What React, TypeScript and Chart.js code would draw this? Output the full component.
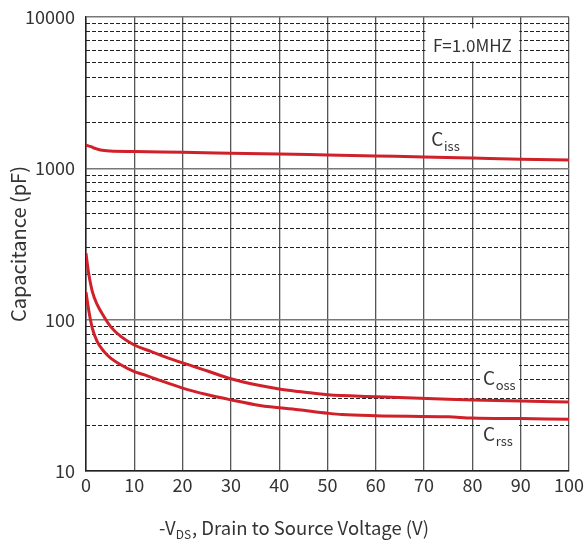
import React, { useEffect, useRef } from "react";
import { Chart, registerables } from "chart.js";

Chart.register(...registerables);

// ---- data ----
const cissV = [0, 1, 2, 3, 5, 10, 20, 30, 40, 50, 60, 70, 80, 90, 100];
const cissC = [1425, 1390, 1350, 1320, 1300, 1290, 1276, 1260, 1244, 1225, 1207, 1190, 1170, 1150, 1135];

const cossV = [0, 0.3, 0.6, 1.3, 2.3, 3.7, 5.1, 7.2, 9.9, 13.4, 16.1, 20, 25, 30, 36, 40, 44, 50, 60, 75, 80, 90, 100];
const cossC = [275, 230, 198, 154, 126, 105, 90, 77.5, 68.3, 61.7, 57.2, 51.8, 46, 40.7, 36.7, 34.8, 33.5, 31.9, 31.0, 29.8, 29.5, 29.0, 28.6];

const crssV = [0, 0.6, 1.3, 2.3, 3.7, 5.1, 7.2, 9.9, 12, 15, 20, 25, 30, 36, 44, 50, 53, 60, 75, 80, 90, 100];
const crssC = [152, 113.5, 88, 71.8, 61.7, 55.7, 50.4, 45.5, 43.3, 40, 35.3, 32, 29.5, 27.1, 25.4, 24.1, 23.6, 23.2, 22.8, 22.4, 22.2, 22.0];

const xTicks = [0, 10, 20, 30, 40, 50, 60, 70, 80, 90, 100];
const yMajorTicks = [10, 100, 1000, 10000];
const yMinorTicks = [
  20, 30, 40, 50, 60, 70, 80, 90,
  200, 300, 400, 500, 600, 700, 800, 900,
  2000, 3000, 4000, 5000, 6000, 7000, 8000, 9000,
];

const FONT = '"Noto Sans CJK SC", "Noto Sans", sans-serif';
const RED = "#d0202a";
const TEXT = "#333";

function toPts(xs: number[], ys: number[]) {
  return xs.map((x, i) => ({ x, y: ys[i] }));
}

const labelsPlugin = {
  id: "labelsPlugin",
  beforeDatasetsDraw(chart: any) {
    const ctx = chart.ctx as CanvasRenderingContext2D;
    const xs = chart.scales.x;
    const ys = chart.scales.y;
    ctx.save();
    // F=1.0MHZ box
    const fx = xs.getPixelForValue(80);
    const fy = ys.getPixelForValue(6500);
    ctx.fillStyle = "#fff";
    ctx.fillRect(fx - 47, fy - 17, 94, 33);
    ctx.fillStyle = TEXT;
    ctx.font = `17px ${FONT}`;
    ctx.textAlign = "center";
    ctx.textBaseline = "middle";
    ctx.fillText("F=1.0MHZ", fx, fy);

    const drawC = (sub: string, xv: number, yv: number, box: boolean) => {
      const px = xs.getPixelForValue(xv);
      const py = ys.getPixelForValue(yv);
      if (box) {
        ctx.fillStyle = "#fff";
        ctx.fillRect(px - 2, py - 16, 38, 32);
      }
      ctx.fillStyle = TEXT;
      ctx.textAlign = "left";
      ctx.textBaseline = "alphabetic";
      ctx.font = `19px ${FONT}`;
      ctx.fillText("C", px, py + 7);
      const w = ctx.measureText("C").width;
      ctx.font = `13px ${FONT}`;
      ctx.fillText(sub, px + w + 0.5, py + 12);
    };
    drawC("iss", 71.5, 1560, false);
    drawC("oss", 82.2, 41, true);
    drawC("rss", 82.2, 17.5, true);
    ctx.restore();
  },
  afterDraw(chart: any) {
    const ctx = chart.ctx as CanvasRenderingContext2D;
    ctx.save();
    ctx.fillStyle = TEXT;
    // y title
    ctx.translate(18, 244);
    ctx.rotate(-Math.PI / 2);
    ctx.font = `20px ${FONT}`;
    ctx.textAlign = "center";
    ctx.textBaseline = "middle";
    ctx.fillText("Capacitance (pF)", 0, 0);
    ctx.restore();

    // x title
    ctx.save();
    ctx.fillStyle = TEXT;
    ctx.textAlign = "left";
    ctx.textBaseline = "alphabetic";
    const big = `18.5px ${FONT}`;
    const small = `12px ${FONT}`;
    const p1 = "-V";
    const p2 = "DS";
    const p3 = ", Drain to Source Voltage (V)";
    ctx.font = big;
    const w1 = ctx.measureText(p1).width;
    const w3 = ctx.measureText(p3).width;
    ctx.font = small;
    const w2 = ctx.measureText(p2).width;
    const total = w1 + w2 + 1 + w3;
    let x = 294 - total / 2;
    const base = 535;
    ctx.font = big;
    ctx.fillText(p1, x, base);
    x += w1;
    ctx.font = small;
    ctx.fillText(p2, x, base + 4);
    x += w2 + 1;
    ctx.font = big;
    ctx.fillText(p3, x, base);
    ctx.restore();
  },
};

const zeroPad = (s: any) => {
  s.paddingTop = 0;
  s.paddingBottom = 0;
  s.paddingLeft = 0;
  s.paddingRight = 0;
};

export default function App() {
  const ref = useRef<HTMLCanvasElement | null>(null);

  useEffect(() => {
    document.body.style.margin = "0";
    if (!ref.current) return;
    const chart = new Chart(ref.current, {
      type: "line",
      data: {
        datasets: [
          { label: "Ciss", data: toPts(cissV, cissC) },
          { label: "Coss", data: toPts(cossV, cossC) },
          { label: "Crss", data: toPts(crssV, crssC) },
        ].map((d) => ({
          ...d,
          borderColor: RED,
          borderWidth: 3,
          pointRadius: 0,
          fill: false,
          cubicInterpolationMode: "monotone" as const,
          yAxisID: "y",
        })),
      },
      options: {
        responsive: false,
        animation: false,
        layout: { padding: { top: 17, right: 17, left: 0, bottom: 0 } },
        plugins: { legend: { display: false }, tooltip: { enabled: false } },
        scales: {
          x: {
            type: "linear",
            min: 0,
            max: 100,
            afterBuildTicks: (s: any) => {
              s.ticks = xTicks.map((v) => ({ value: v }));
            },
            afterFit: (s: any) => {
              s.height = 73;
              zeroPad(s);
            },
            grid: { color: "#555", lineWidth: 1.3, drawTicks: false },
            border: { display: true, color: "#222", width: 1.5 },
            ticks: {
              autoSkip: false,
              maxRotation: 0,
              padding: 3,
              color: TEXT,
              font: { family: FONT, size: 18 },
            },
          },
          y: {
            type: "logarithmic",
            position: "left",
            min: 10,
            max: 10000,
            afterBuildTicks: (s: any) => {
              s.ticks = yMajorTicks.map((v) => ({ value: v }));
            },
            afterFit: (s: any) => {
              s.width = 86;
              zeroPad(s);
            },
            grid: { color: "#777", lineWidth: 1.5, drawTicks: false },
            border: { display: true, color: "#222", width: 1.5 },
            ticks: {
              autoSkip: false,
              padding: 11,
              color: TEXT,
              font: { family: FONT, size: 18 },
              callback: (v: any) => String(v),
            },
          },
          y2: {
            type: "logarithmic",
            position: "left",
            min: 10,
            max: 10000,
            afterBuildTicks: (s: any) => {
              s.ticks = yMinorTicks.map((v) => ({ value: v }));
            },
            afterFit: (s: any) => {
              s.width = 0;
              zeroPad(s);
            },
            grid: { color: "#222", lineWidth: 1, drawTicks: false },
            border: { display: false, dash: [4, 2] },
            ticks: { display: false },
          },
        },
      },
      plugins: [labelsPlugin],
    } as any);
    return () => chart.destroy();
  }, []);

  return (
    <div style={{ width: 586, height: 544 }}>
      <canvas ref={ref} width={586} height={544} style={{ display: "block" }} />
    </div>
  );
}
